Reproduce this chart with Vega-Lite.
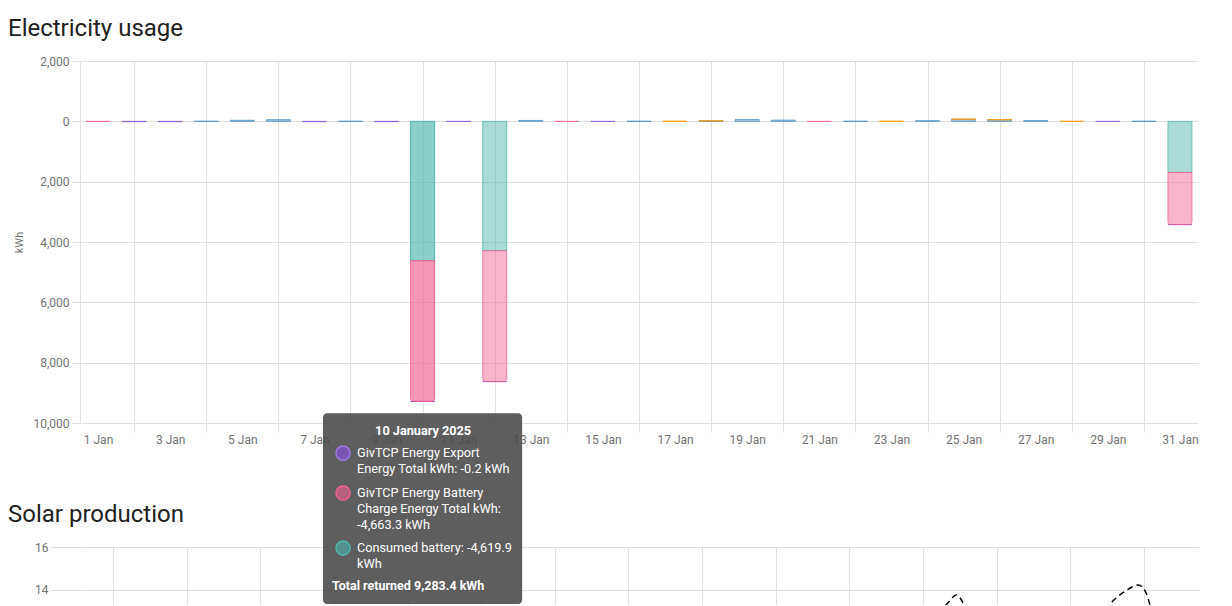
{
  "$schema": "https://vega.github.io/schema/vega-lite/v6.json",
  "background": "white",
  "padding": {"left": 8, "top": 17, "right": 0, "bottom": 0},
  "bounds": "full",
  "spacing": -32,
  "config": {
    "font": "Roboto",
    "view": {"stroke": null},
    "axis": {
      "labelFont": "Roboto",
      "labelColor": "#727272",
      "labelFontSize": 12,
      "gridColor": "#e0e0e0",
      "tickColor": "#e0e0e0",
      "domainColor": "#e0e0e0",
      "titleFont": "Roboto"
    },
    "title": {
      "font": "Roboto",
      "fontSize": 24,
      "fontWeight": "normal",
      "color": "#212121",
      "anchor": "start",
      "frame": "group",
      "offset": 14
    },
    "text": {"font": "Roboto"}
  },
  "vconcat": [
    {
      "title": {"text": "Electricity usage", "dx": -72},
      "width": 1118,
      "height": 362,
      "data": {
        "values": [
          {"day": 1, "series": "GivTCP Energy Battery Charge Energy Total kWh", "kWh": -3},
          {"day": 2, "series": "GivTCP Energy Export Energy Total kWh", "kWh": -12},
          {"day": 3, "series": "GivTCP Energy Export Energy Total kWh", "kWh": -12},
          {"day": 4, "series": "Grid consumption", "kWh": 3},
          {"day": 5, "series": "Grid consumption", "kWh": 35},
          {"day": 6, "series": "Grid consumption", "kWh": 55},
          {"day": 7, "series": "GivTCP Energy Export Energy Total kWh", "kWh": -12},
          {"day": 8, "series": "Grid consumption", "kWh": 3},
          {"day": 9, "series": "GivTCP Energy Export Energy Total kWh", "kWh": -12},
          {"day": 10, "series": "GivTCP Energy Export Energy Total kWh", "kWh": -0.2},
          {"day": 10, "series": "GivTCP Energy Battery Charge Energy Total kWh", "kWh": -4663.3},
          {"day": 10, "series": "Consumed battery", "kWh": -4619.9},
          {"day": 11, "series": "GivTCP Energy Export Energy Total kWh", "kWh": -6},
          {"day": 12, "series": "GivTCP Energy Export Energy Total kWh", "kWh": -0.3},
          {"day": 12, "series": "GivTCP Energy Battery Charge Energy Total kWh", "kWh": -4341},
          {"day": 12, "series": "Consumed battery", "kWh": -4286},
          {"day": 13, "series": "Grid consumption", "kWh": 30},
          {"day": 14, "series": "GivTCP Energy Battery Charge Energy Total kWh", "kWh": -4},
          {"day": 15, "series": "GivTCP Energy Export Energy Total kWh", "kWh": -6},
          {"day": 16, "series": "Grid consumption", "kWh": 3},
          {"day": 17, "series": "Solar production", "kWh": 6},
          {"day": 18, "series": "Grid consumption", "kWh": 15},
          {"day": 18, "series": "Solar production", "kWh": 4},
          {"day": 19, "series": "Grid consumption", "kWh": 60},
          {"day": 20, "series": "Grid consumption", "kWh": 40},
          {"day": 21, "series": "GivTCP Energy Battery Charge Energy Total kWh", "kWh": -4},
          {"day": 22, "series": "Grid consumption", "kWh": 4},
          {"day": 23, "series": "Solar production", "kWh": 6},
          {"day": 24, "series": "Grid consumption", "kWh": 22},
          {"day": 25, "series": "Grid consumption", "kWh": 70},
          {"day": 25, "series": "Solar production", "kWh": 4},
          {"day": 26, "series": "Grid consumption", "kWh": 50},
          {"day": 26, "series": "Solar production", "kWh": 5},
          {"day": 27, "series": "Grid consumption", "kWh": 25},
          {"day": 28, "series": "Solar production", "kWh": 3},
          {"day": 29, "series": "GivTCP Energy Export Energy Total kWh", "kWh": -6},
          {"day": 30, "series": "Grid consumption", "kWh": 3},
          {"day": 31, "series": "GivTCP Energy Export Energy Total kWh", "kWh": -0.5},
          {"day": 31, "series": "GivTCP Energy Battery Charge Energy Total kWh", "kWh": -1728},
          {"day": 31, "series": "Consumed battery", "kWh": -1694}
        ]
      },
      "transform": [
        {"stack": "kWh", "groupby": ["day"], "sort": [{"field": "series"}], "as": ["y0", "y1"]}
      ],
      "encoding": {
        "x": {
          "field": "day",
          "type": "quantitative",
          "scale": {"domain": [0.5, 31.5], "nice": false, "zero": false, "padding": 0},
          "axis": {
            "values": [1, 2, 3, 4, 5, 6, 7, 8, 9, 10, 11, 12, 13, 14, 15, 16, 17, 18, 19, 20, 21, 22, 23, 24, 25, 26, 27, 28, 29, 30, 31],
            "labelExpr": "datum.value % 2 === 1 ? datum.value + ' Jan' : ''",
            "title": null,
            "domain": false,
            "tickSize": 9,
            "labelPadding": 2,
            "labelOverlap": false,
            "labelFlush": false,
            "gridOpacity": {"condition": {"test": "datum.value % 2 === 0", "value": 1}, "value": 0},
            "tickOpacity": {"condition": {"test": "datum.value % 2 === 0", "value": 1}, "value": 0}
          }
        },
        "y": {
          "field": "y0",
          "type": "quantitative",
          "scale": {"domain": [-10000, 2000], "nice": false, "padding": 0},
          "axis": {
            "values": [-10000, -8000, -6000, -4000, -2000, 0, 2000],
            "labelExpr": "format(abs(datum.value), ',')",
            "title": "kWh",
            "titleFontSize": 11,
            "titleFontWeight": "normal",
            "titleColor": "#727272",
            "titlePadding": 8,
            "tickSize": 8,
            "labelPadding": 3
          }
        },
        "y2": {"field": "y1"},
        "color": {
          "field": "series",
          "type": "nominal",
          "scale": {
            "domain": ["Consumed battery", "GivTCP Energy Battery Charge Energy Total kWh", "GivTCP Energy Export Energy Total kWh", "Grid consumption", "Solar production"],
            "range": ["#4db6ac", "#f06292", "#8353d1", "#488fc2", "#ff9800"]
          },
          "legend": null
        },
        "stroke": {
          "field": "series",
          "type": "nominal",
          "scale": {
            "domain": ["Consumed battery", "GivTCP Energy Battery Charge Energy Total kWh", "GivTCP Energy Export Energy Total kWh", "Grid consumption", "Solar production"],
            "range": ["#4db6ac", "#f06292", "#8353d1", "#488fc2", "#ff9800"]
          },
          "legend": null
        },
        "fillOpacity": {"condition": {"test": "datum.day === 10", "value": 0.66}, "value": 0.48},
        "strokeOpacity": {"condition": {"test": "datum.day === 10", "value": 1}, "value": 0.75}
      },
      "layer": [
        {
          "transform": [{"filter": "datum.series !== 'GivTCP Energy Battery Charge Energy Total kWh'"}],
          "mark": {"type": "bar", "width": 24, "strokeWidth": 1}
        },
        {
          "transform": [{"filter": "datum.series === 'GivTCP Energy Battery Charge Energy Total kWh'"}],
          "mark": {"type": "bar", "width": 24, "strokeWidth": 1, "cornerRadiusBottomLeft": 3, "cornerRadiusBottomRight": 3}
        }
      ]
    },
    {
      "title": {"text": "Solar production", "dx": -72, "dy": 128},
      "width": 1119,
      "height": 58,
      "layer": [
        {
          "data": {
            "values": [
              {"day": 24.45, "kWh": 12.9},
              {"day": 24.63, "kWh": 13.3},
              {"day": 24.78, "kWh": 13.6},
              {"day": 24.9, "kWh": 13.77},
              {"day": 25.02, "kWh": 13.6},
              {"day": 25.12, "kWh": 13.3},
              {"day": 25.3, "kWh": 12.8},
              {"day": 28.9, "kWh": 12.8},
              {"day": 29.09, "kWh": 13.35},
              {"day": 29.3, "kWh": 13.7},
              {"day": 29.5, "kWh": 13.95},
              {"day": 29.7, "kWh": 14.15},
              {"day": 29.85, "kWh": 14.23},
              {"day": 29.98, "kWh": 14.1},
              {"day": 30.1, "kWh": 13.7},
              {"day": 30.17, "kWh": 13.3},
              {"day": 30.3, "kWh": 12.8}
            ]
          },
          "mark": {"type": "line", "color": "#000000", "strokeWidth": 1.5, "strokeDash": [6, 4], "interpolate": "monotone", "clip": true},
          "encoding": {
            "x": {
              "field": "day",
              "type": "quantitative",
              "scale": {"domain": [1.098, 31.5], "nice": false, "zero": false, "padding": 0},
              "axis": {
                "values": [0.5, 2, 4, 6, 8, 10, 12, 14, 16, 18, 20, 22, 24, 26, 28, 30],
                "labels": false,
                "ticks": false,
                "domain": false,
                "title": null
              }
            },
            "y": {
              "field": "kWh",
              "type": "quantitative",
              "scale": {"domain": [13.3, 16], "nice": false, "zero": false, "padding": 0},
              "axis": {"values": [14, 16], "title": null, "tickSize": 30, "labelPadding": 2, "domain": false}
            }
          }
        },
        {
          "data": {"values": [{}]},
          "mark": {"type": "rect", "color": "#4d4d4d", "opacity": 0.9, "cornerRadius": 4},
          "encoding": {
            "x": {"datum": 7.7, "type": "quantitative"},
            "x2": {"datum": 13.11},
            "y": {"datum": 22.23, "type": "quantitative"},
            "y2": {"datum": 13.35}
          }
        },
        {
          "data": {"values": [{}]},
          "mark": {"type": "text", "text": "10 January 2025", "align": "center", "baseline": "middle", "fontSize": 12.7, "fontWeight": "bold", "color": "#ffffff"},
          "encoding": {
            "x": {"datum": 10.42, "type": "quantitative"},
            "y": {"datum": 21.4, "type": "quantitative"}
          }
        },
        {
          "data": {"values": [{}]},
          "mark": {"type": "point", "filled": true, "size": 200, "color": "#8353d1", "fillOpacity": 0.75, "stroke": "#9b78e0", "strokeWidth": 1.5},
          "encoding": {
            "x": {"datum": 8.245, "type": "quantitative"},
            "y": {"datum": 20.37, "type": "quantitative"}
          }
        },
        {
          "data": {"values": [{}]},
          "mark": {"type": "point", "filled": true, "size": 200, "color": "#f06292", "fillOpacity": 0.6, "stroke": "#f06292", "strokeWidth": 1.5},
          "encoding": {
            "x": {"datum": 8.245, "type": "quantitative"},
            "y": {"datum": 18.51, "type": "quantitative"}
          }
        },
        {
          "data": {"values": [{}]},
          "mark": {"type": "point", "filled": true, "size": 200, "color": "#4db6ac", "fillOpacity": 0.6, "stroke": "#4db6ac", "strokeWidth": 1.5},
          "encoding": {
            "x": {"datum": 8.245, "type": "quantitative"},
            "y": {"datum": 15.95, "type": "quantitative"}
          }
        },
        {
          "data": {"values": [{}]},
          "mark": {"type": "text", "text": ["GivTCP Energy Export", "Energy Total kWh: -0.2 kWh"], "lineHeight": 16, "align": "left", "baseline": "middle", "fontSize": 12.7, "color": "#ffffff"},
          "encoding": {
            "x": {"datum": 8.625, "type": "quantitative"},
            "y": {"datum": 20.37, "type": "quantitative"}
          }
        },
        {
          "data": {"values": [{}]},
          "mark": {"type": "text", "text": ["GivTCP Energy Battery", "Charge Energy Total kWh:", "-4,663.3 kWh"], "lineHeight": 16, "align": "left", "baseline": "middle", "fontSize": 12.7, "color": "#ffffff"},
          "encoding": {
            "x": {"datum": 8.625, "type": "quantitative"},
            "y": {"datum": 18.51, "type": "quantitative"}
          }
        },
        {
          "data": {"values": [{}]},
          "mark": {"type": "text", "text": ["Consumed battery: -4,619.9", "kWh"], "lineHeight": 16, "align": "left", "baseline": "middle", "fontSize": 12.7, "color": "#ffffff"},
          "encoding": {
            "x": {"datum": 8.625, "type": "quantitative"},
            "y": {"datum": 15.95, "type": "quantitative"}
          }
        },
        {
          "data": {"values": [{}]},
          "mark": {"type": "text", "text": "Total returned 9,283.4 kWh", "align": "left", "baseline": "middle", "fontSize": 12.5, "fontWeight": "bold", "color": "#ffffff"},
          "encoding": {
            "x": {"datum": 7.945, "type": "quantitative"},
            "y": {"datum": 14.19, "type": "quantitative"}
          }
        }
      ]
    }
  ]
}
